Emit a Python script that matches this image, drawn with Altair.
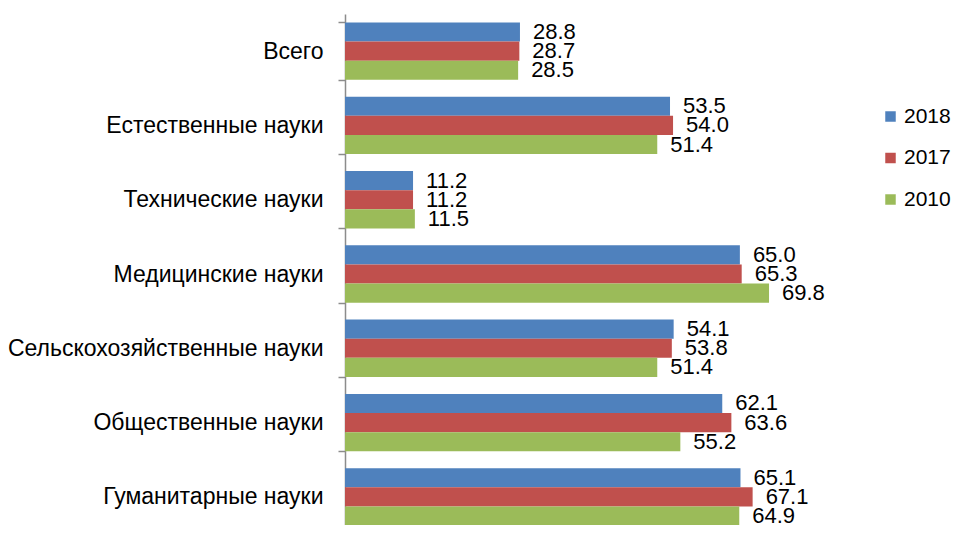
import altair as alt
import pandas as pd

categories = ["Всего", "Естественные науки", "Технические науки", "Медицинские науки",
              "Сельскохозяйственные науки", "Общественные науки", "Гуманитарные науки"]
series = ["2018", "2017", "2010"]
values_2018 = [28.8, 53.5, 11.2, 65.0, 54.1, 62.1, 65.1]
values_2017 = [28.7, 54.0, 11.2, 65.3, 53.8, 63.6, 67.1]
values_2010 = [28.5, 51.4, 11.5, 69.8, 51.4, 55.2, 64.9]
colors = ["#4F81BD", "#C0504D", "#9BBB59"]

rows = []
for s, vals in zip(series, [values_2018, values_2017, values_2010]):
    for c, v in zip(categories, vals):
        rows.append({"category": c, "year": s, "value": v})
df = pd.DataFrame(rows)

FONT = "Liberation Sans"

y_enc = alt.Y("category:N", sort=categories, title=None,
              scale=alt.Scale(paddingInner=0.228, paddingOuter=0.114, range=[0, 520]),
              axis=alt.Axis(tickBand="extent", tickSize=7, labelPadding=15,
                            labelFontSize=23, labelFont=FONT, labelColor="#000000",
                            domainColor="#8c8c8c", tickColor="#8c8c8c",
                            domainWidth=1.5, tickWidth=1.5, labelLimit=400))
yoff = alt.YOffset("year:N", sort=series)
x_enc = alt.X("value:Q", scale=alt.Scale(domain=[0, 80]), axis=None)

bars = alt.Chart(df).mark_bar().encode(
    y=y_enc,
    yOffset=yoff,
    x=x_enc,
    color=alt.Color("year:N", sort=series,
                    scale=alt.Scale(domain=series, range=colors),
                    legend=alt.Legend(title=None, orient="none", legendX=535, legendY=92,
                                      symbolType="square", symbolSize=110,
                                      symbolStrokeWidth=0, labelFontSize=21,
                                      labelFont=FONT, labelColor="#000000",
                                      rowPadding=19.5, labelOffset=3, labelLimit=200)),
)

text = alt.Chart(df).mark_text(align="left", baseline="middle", dx=13,
                               fontSize=22, font=FONT, color="#000000").encode(
    y=alt.Y("category:N", sort=categories),
    yOffset=yoff,
    x=x_enc,
    text=alt.Text("value:Q", format=".1f"),
)

chart = alt.layer(bars, text).properties(
    width=486, height=511,
    autosize=alt.AutoSizeParams(type="none"),
    padding={"left": 337, "top": 6, "right": 124, "bottom": 0},
).configure_view(stroke=None)

chart.save("out.html", embed_options={"renderer": "svg", "actions": False})
